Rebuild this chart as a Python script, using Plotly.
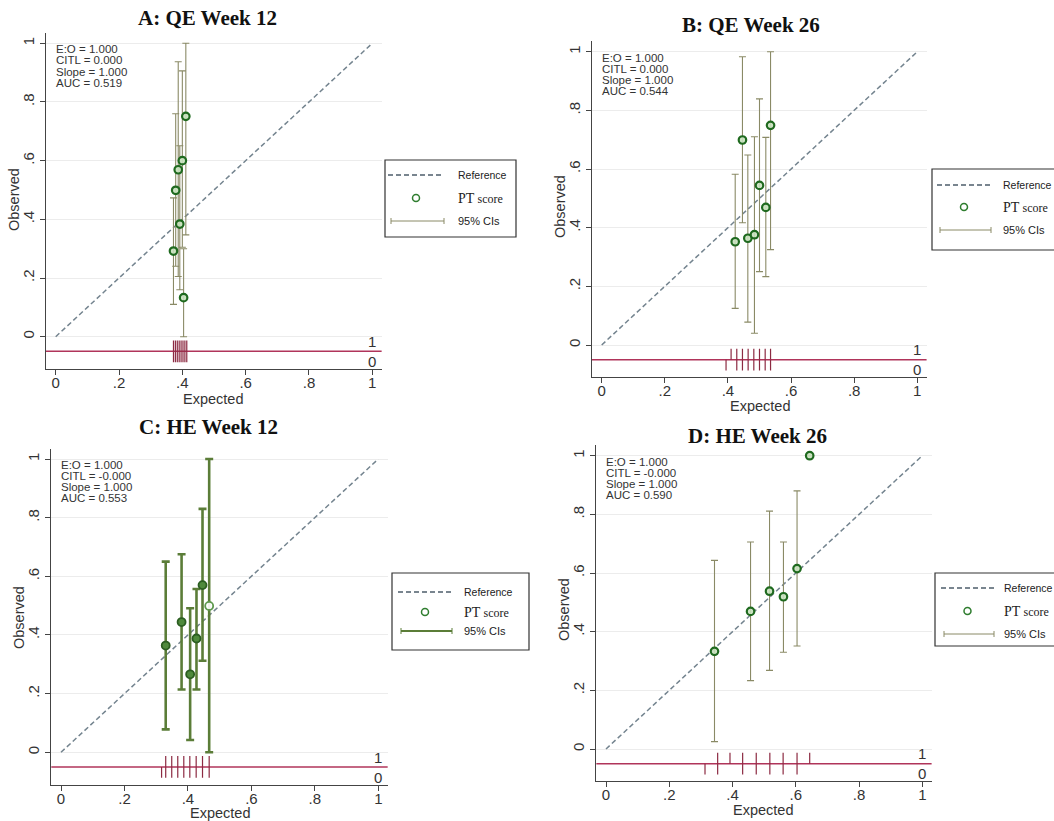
import plotly.graph_objects as go

W, H = 1054, 821

# ---------------- data ----------------
titles = ["A: QE Week 12", "B: QE Week 26", "C: HE Week 12", "D: HE Week 26"]

a_exp = [0.372, 0.379, 0.387, 0.392, 0.400, 0.404, 0.411]
a_obs = [0.292, 0.499, 0.569, 0.384, 0.600, 0.133, 0.751]
a_lo = [0.110, 0.240, 0.205, 0.160, 0.305, 0.000, 0.347]
a_hi = [0.473, 0.760, 0.937, 0.651, 0.906, 0.300, 1.000]
a_rug1 = [0.372, 0.378, 0.384, 0.390, 0.396, 0.402, 0.408, 0.414]
a_rug0 = [0.372, 0.378, 0.384, 0.390, 0.396, 0.402, 0.408, 0.414]
a_stats = ["E:O = 1.000", "CITL = 0.000", "Slope = 1.000", "AUC = 0.519"]

b_exp = [0.423, 0.446, 0.463, 0.484, 0.500, 0.520, 0.535]
b_obs = [0.352, 0.699, 0.364, 0.376, 0.544, 0.469, 0.749]
b_lo = [0.125, 0.417, 0.078, 0.040, 0.250, 0.233, 0.325]
b_hi = [0.582, 0.983, 0.648, 0.710, 0.839, 0.708, 1.000]
b_rug1 = [0.410, 0.428, 0.446, 0.464, 0.482, 0.500, 0.518, 0.535]
b_rug0 = [0.394, 0.428, 0.446, 0.464, 0.482, 0.500, 0.518, 0.535]
b_stats = ["E:O = 1.000", "CITL = 0.000", "Slope = 1.000", "AUC = 0.544"]

c_exp = [0.330, 0.380, 0.407, 0.427, 0.446, 0.467]
c_obs = [0.364, 0.444, 0.266, 0.388, 0.570, 0.499]
c_lo = [0.078, 0.214, 0.042, 0.214, 0.312, 0.000]
c_hi = [0.650, 0.675, 0.491, 0.557, 0.830, 1.000]
c_rug1 = [0.330, 0.349, 0.368, 0.387, 0.406, 0.426, 0.446, 0.467]
c_rug0 = [0.317, 0.330, 0.349, 0.368, 0.387, 0.406, 0.426, 0.446, 0.467]
c_stats = ["E:O = 1.000", "CITL = -0.000", "Slope = 1.000", "AUC = 0.553"]

d_exp = [0.343, 0.457, 0.517, 0.561, 0.604, 0.644]
d_obs = [0.333, 0.469, 0.538, 0.519, 0.615, 1.000]
d_lo = [0.025, 0.233, 0.268, 0.330, 0.351, 1.000]
d_hi = [0.643, 0.706, 0.811, 0.706, 0.880, 1.000]
d_rug1 = [0.353, 0.392, 0.432, 0.475, 0.518, 0.560, 0.604, 0.644]
d_rug0 = [0.313, 0.353, 0.432, 0.475, 0.518, 0.560, 0.604]
d_stats = ["E:O = 1.000", "CITL = -0.000", "Slope = 1.000", "AUC = 0.590"]

tick_vals = [0, 0.2, 0.4, 0.6, 0.8, 1]
tick_text = ["0", ".2", ".4", ".6", ".8", "1"]
legend_labels = ["Reference", "PT score", "95% CIs"]

# ---------------- layout geometry (pixels) ----------------
XR = [-0.031, 1.03]
YR = [-0.11, 1.035]
calib = [
    dict(x0=55.7, x1=372.3, y0=336.7, y1=43.3),
    dict(x0=601.7, x1=917.3, y0=345.0, y1=51.7),
    dict(x0=61.0, x1=378.3, y0=752.3, y1=459.0),
    dict(x0=606.0, x1=922.3, y0=749.0, y1=455.7),
]
title_pos = [(207, 18), (751, 25), (208, 427), (757, 436)]
obs_pos = [(14, 200), (560, 207), (19, 618), (564, 610)]
exp_pos = [(213, 399), (760, 406), (220, 813), (763, 810)]
legend_geo = [
    dict(box=(385, 160, 516, 237), lx=(388, 444), tx=456, ys=(175, 198, 221)),
    dict(box=(932, 169, 1070, 250), lx=(937, 991), tx=1001, ys=(185, 207, 230)),
    dict(box=(392, 573, 529, 650), lx=(398, 452), tx=462, ys=(592, 612, 631)),
    dict(box=(935, 573, 1070, 646), lx=(941, 994), tx=1002, ys=(588, 611, 634)),
]

def px(x):
    return x / W

def py(y):
    return 1 - y / H

panels = [
    (a_exp, a_obs, a_lo, a_hi, a_rug1, a_rug0, a_stats),
    (b_exp, b_obs, b_lo, b_hi, b_rug1, b_rug0, b_stats),
    (c_exp, c_obs, c_lo, c_hi, c_rug1, c_rug0, c_stats),
    (d_exp, d_obs, d_lo, d_hi, d_rug1, d_rug0, d_stats),
]

SANS = "Liberation Sans, Arial, sans-serif"
SERIF = "Liberation Serif, Times New Roman, serif"
GREEN = "#1f6a1f"
CI_THIN = "#8a8a66"
CI_THICK = "#5b7d38"
REFC = "#74848f"
RUGC = "#8c2a42"
LINEC = "#b0345a"

fig = go.Figure()
layout = dict(
    width=W, height=H, margin=dict(l=0, r=0, t=0, b=0),
    paper_bgcolor="white", plot_bgcolor="white", showlegend=False,
)
shapes = []
annotations = []

for i, (ex, ob, lo, hi, r1, r0, stats) in enumerate(panels):
    c = calib[i]
    sx = c["x1"] - c["x0"]
    sy = c["y0"] - c["y1"]
    left = c["x0"] + XR[0] * sx
    right = c["x0"] + XR[1] * sx
    bottom = c["y0"] - YR[0] * sy
    top = c["y0"] - YR[1] * sy
    xa = "xaxis" if i == 0 else f"xaxis{i+1}"
    ya = "yaxis" if i == 0 else f"yaxis{i+1}"
    xr = "x" if i == 0 else f"x{i+1}"
    yr = "y" if i == 0 else f"y{i+1}"
    layout[xa] = dict(
        domain=[px(left), px(right)], range=XR, anchor=yr,
        tickvals=tick_vals, ticktext=tick_text, ticks="outside", ticklen=5,
        tickcolor="#444", tickwidth=1, showgrid=False, zeroline=False,
        showline=True, linecolor="#444", linewidth=1.3, ticklabelstandoff=-5,
        tickfont=dict(family=SANS, size=15, color="#333"),
    )
    layout[ya] = dict(
        domain=[py(bottom), py(top)], range=YR, anchor=xr,
        tickvals=tick_vals, ticktext=tick_text, ticks="outside", ticklen=5,
        tickcolor="#444", tickwidth=1, showgrid=True, gridcolor="#ececec",
        gridwidth=1, zeroline=False, showline=True, linecolor="#444",
        linewidth=1.3, tickangle=-90,
        tickfont=dict(family=SANS, size=15, color="#333"),
    )

    fig.add_trace(go.Scatter(x=[0, 1], y=[0, 1], mode="lines", xaxis=xr, yaxis=yr,
                             line=dict(color=REFC, width=1.5, dash="5px,3px"),
                             hoverinfo="skip"))
    fig.add_trace(go.Scatter(x=[XR[0], XR[1]], y=[-0.05, -0.05], mode="lines",
                             xaxis=xr, yaxis=yr, line=dict(color=LINEC, width=1.5),
                             hoverinfo="skip"))
    rx, ry = [], []
    for v in r1:
        rx += [v, v, None]
        ry += [-0.05, -0.013, None]
    for v in r0:
        rx += [v, v, None]
        ry += [-0.05, -0.087, None]
    fig.add_trace(go.Scatter(x=rx, y=ry, mode="lines", xaxis=xr, yaxis=yr,
                             line=dict(color=RUGC, width=1.2), hoverinfo="skip"))
    thick = (i == 2)
    err_plus = [h - o for h, o in zip(hi, ob)]
    err_minus = [o - l for o, l in zip(ob, lo)]
    if thick:
        mcol = ["#4f8a3c"] * (len(ex) - 1) + ["rgba(255,255,255,0.9)"]
        mline = ["#2c5e22"] * (len(ex) - 1) + ["#5f9a4f"]
        marker = dict(symbol="circle", size=8, color=mcol,
                      line=dict(color=mline, width=1.8))
    else:
        marker = dict(symbol="circle", size=7.5, color="rgba(200,225,190,0.9)",
                      line=dict(color=GREEN, width=2.2))
    fig.add_trace(go.Scatter(
        x=ex, y=ob, mode="markers", xaxis=xr, yaxis=yr, marker=marker,
        error_y=dict(type="data", symmetric=False, array=err_plus,
                     arrayminus=err_minus,
                     color=CI_THICK if thick else CI_THIN,
                     thickness=2.6 if thick else 1.1,
                     width=4 if thick else 3.5),
    ))
    annotations.append(dict(x=1.0, y=-0.017, xref=xr, yref=yr, text="1",
                            showarrow=False, font=dict(family=SANS, size=15, color="#333")))
    annotations.append(dict(x=1.0, y=-0.085, xref=xr, yref=yr, text="0",
                            showarrow=False, font=dict(family=SANS, size=15, color="#333")))
    for k, s in enumerate(stats):
        annotations.append(dict(x=0.0, y=1.0, xref=xr, yref=yr, text=s,
                                showarrow=False, xanchor="left", yanchor="middle",
                                yshift=-(6 + 11.1 * k), xshift=-2,
                                font=dict(family=SANS, size=11.5, color="#333")))
    tx, ty = title_pos[i]
    annotations.append(dict(x=px(tx), y=py(ty), xref="paper", yref="paper",
                            text="<b>%s</b>" % titles[i], showarrow=False,
                            xanchor="center", yanchor="middle",
                            font=dict(family=SERIF, size=21, color="#111")))
    ox, oy = obs_pos[i]
    annotations.append(dict(x=px(ox), y=py(oy), xref="paper", yref="paper",
                            text="Observed", showarrow=False, textangle=-90,
                            xanchor="center", yanchor="middle",
                            font=dict(family=SANS, size=14.5, color="#333")))
    ex_, ey_ = exp_pos[i]
    annotations.append(dict(x=px(ex_), y=py(ey_), xref="paper", yref="paper",
                            text="Expected", showarrow=False,
                            xanchor="center", yanchor="middle",
                            font=dict(family=SANS, size=14.5, color="#333")))

    g = legend_geo[i]
    bx0, by0, bx1, by1 = g["box"]
    shapes.append(dict(type="rect", xref="paper", yref="paper",
                       x0=px(bx0), x1=px(bx1), y0=py(by0), y1=py(by1),
                       line=dict(color="#333", width=1.2), fillcolor="white", layer="above"))
    lx0, lx1 = g["lx"]
    y_ref, y_pt, y_ci = g["ys"]
    shapes.append(dict(type="line", xref="paper", yref="paper",
                       x0=px(lx0), x1=px(lx1), y0=py(y_ref), y1=py(y_ref),
                       line=dict(color="#4d5d6b", width=1.3, dash="5px,3px"), layer="above"))
    cx = (lx0 + lx1) / 2
    shapes.append(dict(type="circle", xref="paper", yref="paper",
                       x0=px(cx - 3.5), x1=px(cx + 3.5), y0=py(y_pt - 3.5), y1=py(y_pt + 3.5),
                       line=dict(color="#2f7d2f", width=1.5), fillcolor="white", layer="above"))
    cic = CI_THICK if thick else CI_THIN
    ciw = 2 if thick else 1
    shapes.append(dict(type="line", xref="paper", yref="paper",
                       x0=px(lx0 + 3), x1=px(lx1), y0=py(y_ci), y1=py(y_ci),
                       line=dict(color=cic, width=ciw), layer="above"))
    for xx in (lx0 + 3, lx1):
        shapes.append(dict(type="line", xref="paper", yref="paper",
                           x0=px(xx), x1=px(xx), y0=py(y_ci - 3), y1=py(y_ci + 3),
                           line=dict(color=cic, width=1), layer="above"))
    tx0 = g["tx"]
    annotations.append(dict(x=px(tx0), y=py(y_ref), xref="paper", yref="paper",
                            text=legend_labels[0], showarrow=False, xanchor="left",
                            yanchor="middle", font=dict(family=SANS, size=10.5, color="#222")))
    annotations.append(dict(x=px(tx0), y=py(y_pt), xref="paper", yref="paper",
                            text="PT <span style='font-size:12px'>score</span>",
                            showarrow=False, xanchor="left", yanchor="middle",
                            font=dict(family=SERIF, size=14, color="#222")))
    annotations.append(dict(x=px(tx0), y=py(y_ci), xref="paper", yref="paper",
                            text=legend_labels[2], showarrow=False, xanchor="left",
                            yanchor="middle", font=dict(family=SANS, size=11, color="#222")))

layout["shapes"] = shapes
layout["annotations"] = annotations
fig.update_layout(**layout)
fig.write_html("out.html", config={"displayModeBar": False},
               post_script="document.body.style.margin='0px';document.body.style.padding='0px';document.body.style.overflow='hidden';")
